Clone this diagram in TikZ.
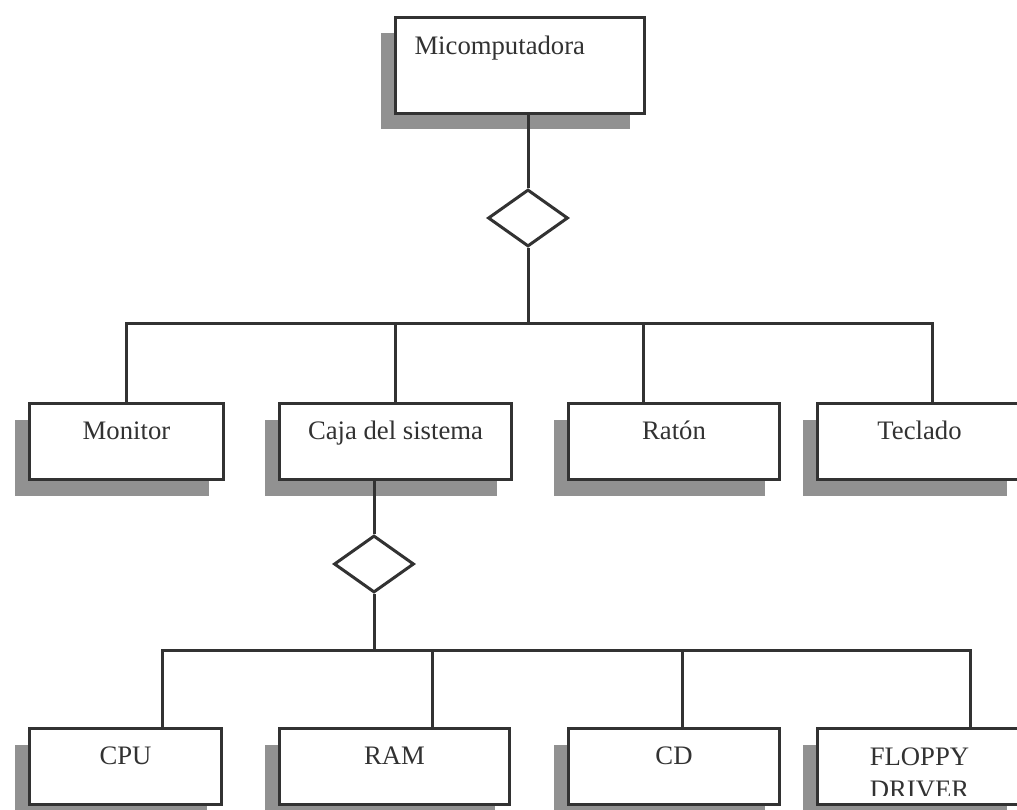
\documentclass[tikz,border=0pt]{standalone}
\usepackage{fontspec}
\setmainfont{Liberation Serif}
\usetikzlibrary{shapes.geometric,shadows,calc}
\definecolor{ink}{RGB}{50,50,50}
\definecolor{shade}{RGB}{145,145,145}
\begin{document}
\begin{tikzpicture}[x=1pt,y=-1pt,
  every node/.style={font=\fontsize{26.7}{32}\selectfont, text=ink},
  conn/.style={draw=ink, line width=3pt, line join=miter},
  box/.style={draw=ink, line width=3pt, fill=white, rectangle, anchor=north west,
    inner sep=0pt, text height=36pt, text depth=40pt,
    general shadow={fill=shade, shadow xshift=-15pt, shadow yshift=-16pt}},
  rel/.style={diamond, draw=ink, line width=3pt, fill=white, inner sep=0pt,
    minimum width=80pt, minimum height=57pt}]
\useasboundingbox (0,0) rectangle (1017,810);
\clip (0,0) rectangle (1017,810);

% root
\node[box, inner xsep=19pt, text width=211pt, align=left,
      text height=37pt, text depth=59pt] (top) at (394,16) {Micomputadora};

% first level
\node[box, minimum width=194pt] (monitor) at (28,402)  {Monitor};
\node[box, minimum width=232pt] (caja)    at (278,402) {Caja del sistema};
\node[box, minimum width=211pt] (raton)   at (567,402) {Ratón};
\node[box, minimum width=204pt] (teclado) at (816,402) {Teclado};

% second level
\node[box, minimum width=192pt] (cpu)    at (28,727)  {CPU};
\node[box, minimum width=230pt] (ram)    at (278,727) {RAM};
\node[box, minimum width=211pt] (cd)     at (567,727) {CD};
\node[box, minimum width=204pt] (floppy) at (816,727) {};
\begin{scope}
  \clip (floppy.north west) rectangle ($(floppy.south east)+(0,-11)$);
  \node[anchor=base] (floppyA) at ($(floppy.north)+(0,38)$) {FLOPPY};
  \node[anchor=base] (floppyB) at ($(floppy.north)+(0,71)$) {DRIVER};
\end{scope}

% aggregation diamonds
\node[rel] (d1) at (528,218) {};
\node[rel] (d2) at (374,564) {};

% junctions and attachment points
\coordinate (b1) at (528,323);
\coordinate (b2) at (374,650);
\coordinate (ratIn) at ($(raton.north west)+(76,0)$);
\coordinate (tecIn) at ($(teclado.north west)+(116,0)$);
\coordinate (cpuIn) at ($(cpu.north west)+(134,0)$);
\coordinate (ramIn) at ($(ram.north west)+(154,0)$);
\coordinate (cdIn)  at ($(cd.north west)+(115,0)$);
\coordinate (flopIn) at ($(floppy.north west)+(154,0)$);

% upper tree
\draw[conn] (top.south -| d1.north) -- (d1.north);
\draw[conn] (d1.south) -- (b1);
\draw[conn] (monitor.north) -- (monitor.north |- b1) -- (tecIn |- b1) -- (tecIn);
\draw[conn] (caja.north) -- (caja.north |- b1);
\draw[conn] (ratIn) -- (ratIn |- b1);

% lower tree
\draw[conn] (caja.south -| d2.north) -- (d2.north);
\draw[conn] (d2.south) -- (b2);
\draw[conn] (cpuIn) -- (cpuIn |- b2) -- (flopIn |- b2) -- (flopIn);
\draw[conn] (ramIn) -- (ramIn |- b2);
\draw[conn] (cdIn) -- (cdIn |- b2);
\end{tikzpicture}
\end{document}
